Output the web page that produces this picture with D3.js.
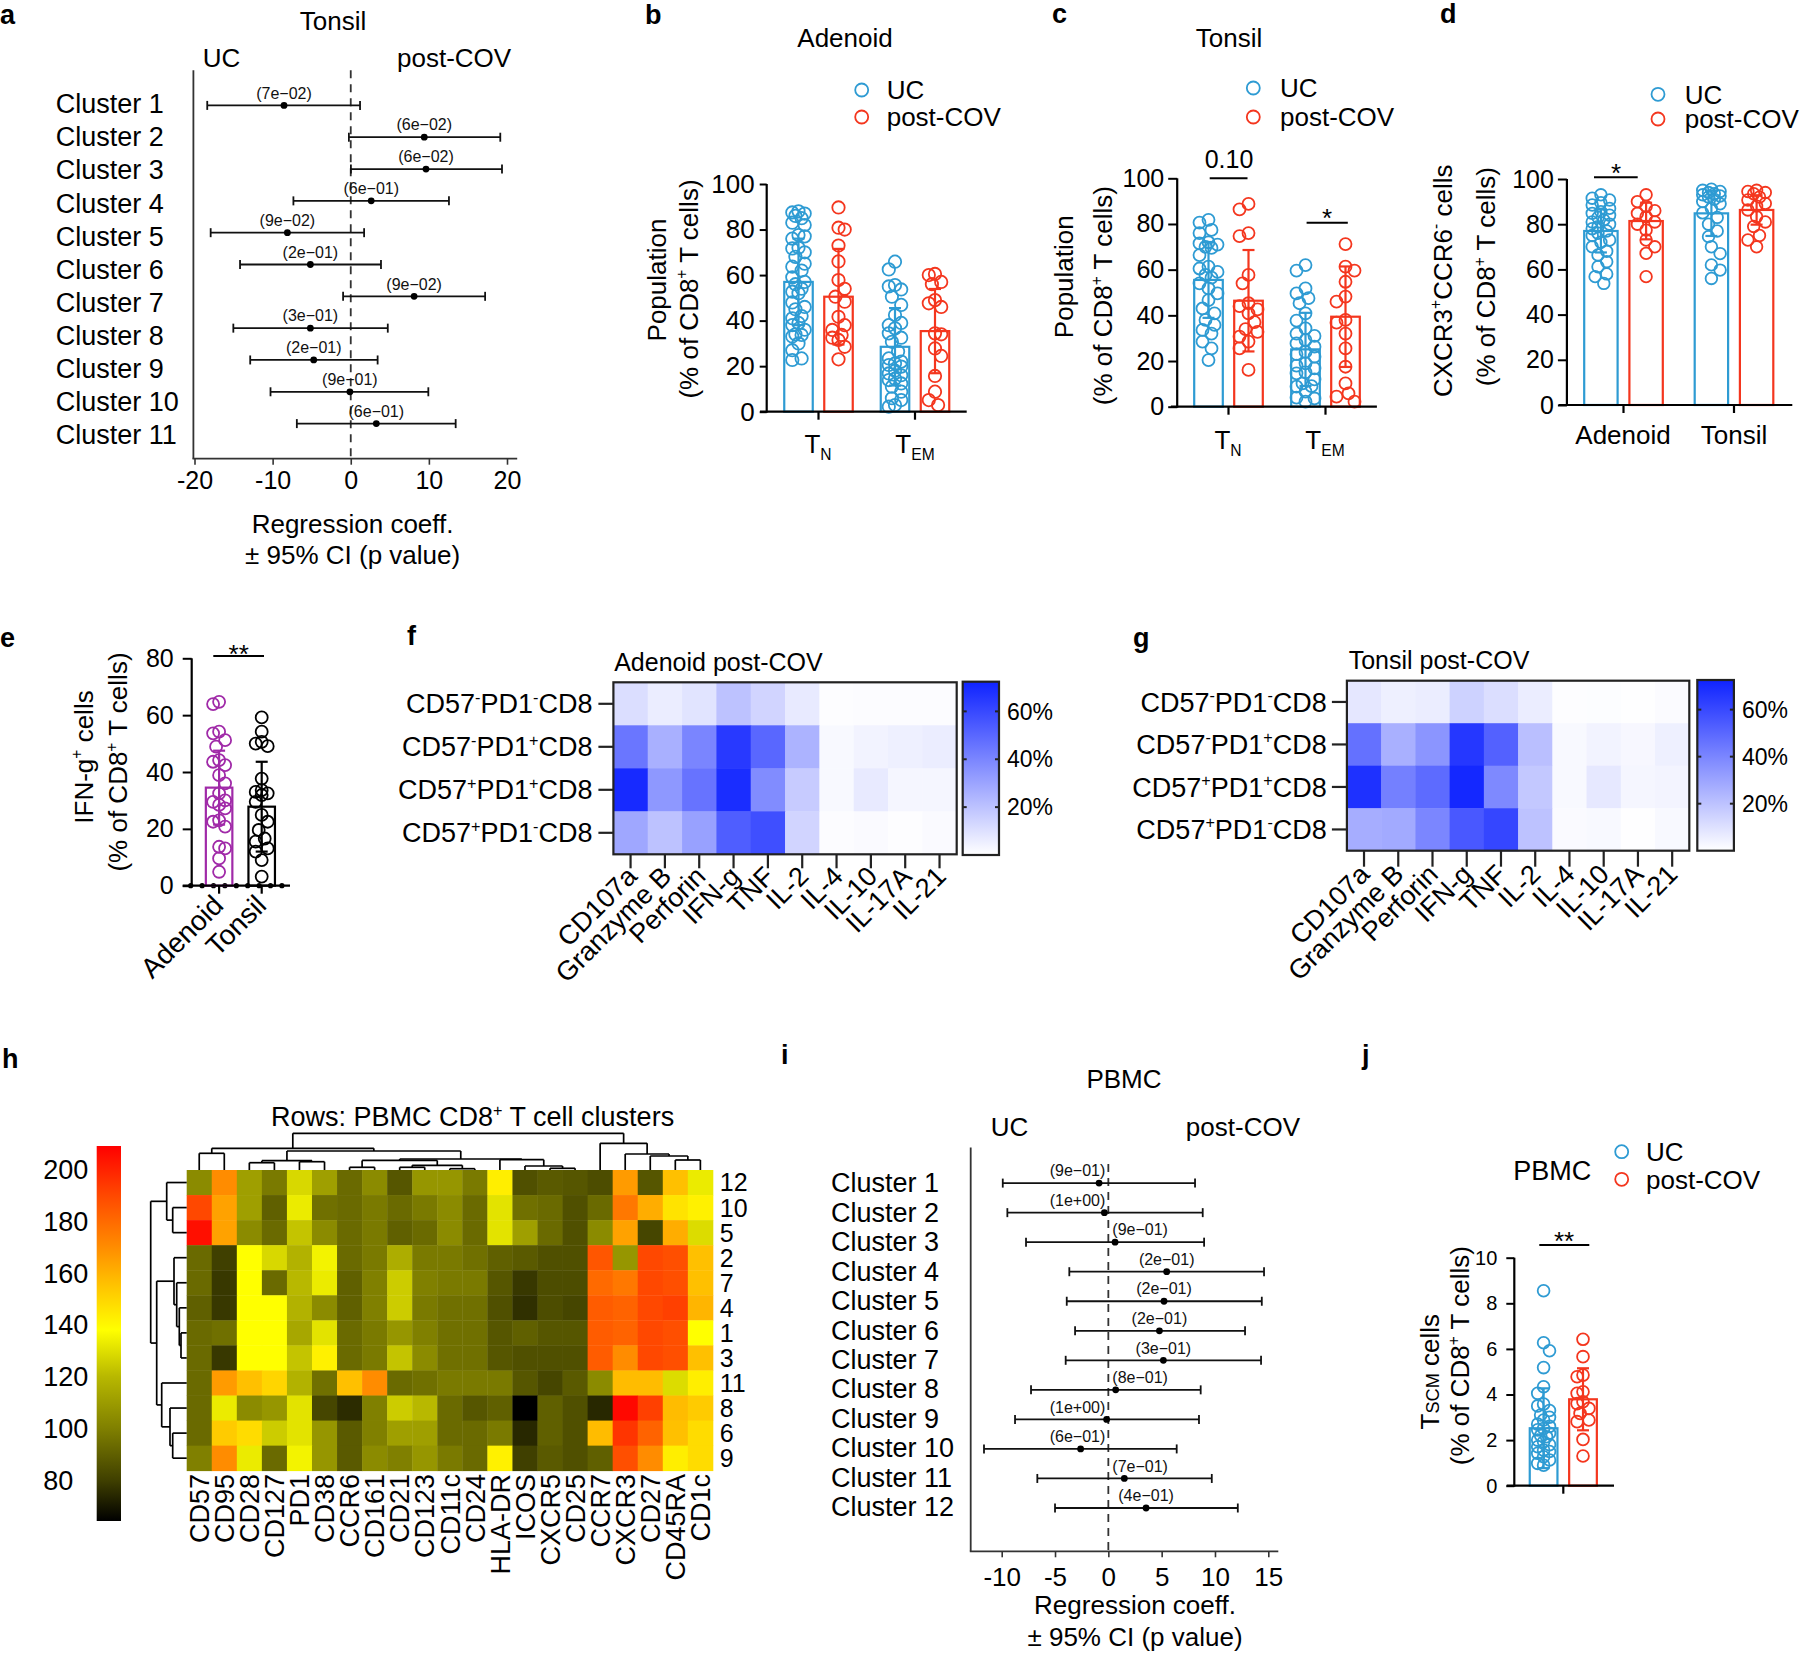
<!DOCTYPE html>
<html><head><meta charset="utf-8"><title>Figure</title>
<script src="https://cdn.jsdelivr.net/npm/d3@7/dist/d3.min.js"></script>
<style>html,body{margin:0;padding:0;background:#fff;}svg{display:block;}</style>
</head><body>
<svg id="fig" width="1800" height="1653" xmlns="http://www.w3.org/2000/svg"></svg>
<script>
const FONT = '"Liberation Sans", Arial, Helvetica, sans-serif';
const UC_COL = '#2e9bd3', PC_COL = '#f4361e', PUR_COL = '#a02aa8';

// ================= DATA =================
// Panel a (Tonsil forest plot)
const aClusters = ["Cluster 1","Cluster 2","Cluster 3","Cluster 4","Cluster 5","Cluster 6","Cluster 7","Cluster 8","Cluster 9","Cluster 10","Cluster 11"];
const aCoef = [-8.54, 9.41, 9.63, 2.62, -8.11, -5.17, 8.11, -5.17, -4.74, -0.11, 3.27];
const aLow  = [-18.37, -0.24, 0.02, -7.34, -17.93, -14.17, -0.98, -15.03, -12.87, -10.27, -6.9];
const aHigh = [1.19, 19.14, 19.36, 12.57, 1.71, 3.87, 17.2, 4.74, 3.44, 9.93, 13.43];
const aP = ["(7e\u221202)","(6e\u221202)","(6e\u221202)","(6e\u221201)","(9e\u221202)","(2e\u221201)","(9e\u221202)","(3e\u221201)","(2e\u221201)","(9e\u221201)","(6e\u221201)"];
const aTicks = [-20, -10, 0, 10, 20];

// Panel b (Adenoid)
const bGroups = ["TN", "TEM"];
const bMeans = {UC: [57, 28.5], PC: [50.5, 35.4]};
const bSD = {UC: [19, 17], PC: [21, 18.5]};
const bUC_TN = [88, 87.5, 87, 86, 85, 83, 82, 77.6, 77, 76, 72, 71.7, 70, 68, 65, 63.7, 62, 59, 57, 56, 54, 52.7, 52, 48, 46, 45, 42, 41, 39, 38, 36, 34, 33.7, 33, 30, 27, 23.4, 22.7];
const bPC_TN = [89.7, 80.8, 80, 73, 66, 57.8, 54, 50.5, 48.3, 41.7, 38, 35.9, 33.7, 32.5, 31.5, 28.5, 23];
const bUC_TEM = [65.9, 62.5, 55.6, 55, 53.7, 50.5, 46.9, 42.5, 39, 38, 36.6, 34.4, 32.5, 30.7, 26.4, 23.4, 22, 21.2, 19.8, 16.8, 16, 13.9, 12.4, 11, 8.8, 5.9, 5.1, 2.9, 2.2, 20.5, 18, 14.5];
const bPC_TEM = [60.5, 60, 57, 56, 49, 47.6, 46, 34.4, 34, 27.8, 24.5, 15.7, 8.8, 5.1, 2.9];
const pctTicks = [0, 20, 40, 60, 80, 100];

// Panel c (Tonsil)
const cMeans = {UC: [55.5, 25.1], PC: [46.4, 39.4]};
const cSD = {UC: [16.6, 16], PC: [22.2, 22]};
const cUC_TN = [81.8, 80.6, 77.4, 76, 72, 71.5, 71, 70, 69.5, 66.4, 61.3, 60.5, 59, 57.7, 56.5, 54, 51.8, 49.6, 46.7, 43, 40.9, 38, 35.8, 33.6, 32, 28.5, 25.5, 20.4];
const cPC_TN = [88.8, 86.4, 76, 74.7, 57.7, 54, 45.3, 44, 42.6, 40.9, 37, 34, 32.8, 30.7, 28.5, 25.5, 16.1];
const cUC_TEM = [62, 59.6, 51.8, 49.6, 47.5, 45.3, 40.9, 37.7, 34.3, 32, 31, 29.2, 27.7, 26.3, 24, 21.9, 19, 16.8, 14.6, 12, 10.2, 8.8, 6.6, 3.6, 2.2, 23, 18, 4, 9, 15];
const cPC_TEM = [71.2, 61.3, 59.6, 54.7, 48.2, 46, 38, 36.8, 32, 25.5, 17.5, 10.2, 5.8, 4.4, 2.2];

// Panel d (CXCR3+CCR6-)
const dGroups = ["Adenoid", "Tonsil"];
const dMeans = {UC: [77, 84.8], PC: [81.4, 86.3]};
const dSD = {UC: [9.5, 10], PC: [8.1, 6.5]};
const dUC_A = [93, 91.5, 90.7, 89.5, 88.5, 87, 85.5, 84.8, 84, 83, 81.9, 81, 80, 78.9, 78, 77, 76, 75, 73, 72, 70, 68, 66.4, 63.4, 61.2, 58, 56.8, 53.8];
const dPC_A = [93, 90, 87.8, 86, 84.8, 83.3, 81, 80, 77.4, 73, 70, 67.1, 56.8];
const dUC_T = [95.5, 95, 94.5, 94, 93.5, 93, 92.5, 92, 91, 90, 89, 87, 85, 83, 80, 77, 74.5, 70, 67, 62, 59.7, 56];
const dPC_T = [95, 94.5, 94, 93.5, 92, 90.7, 89.2, 88, 86.3, 83.3, 81, 79, 75, 73, 70];

// Panel e (IFN-g+)
const eGroups = ["Adenoid", "Tonsil"];
const eMeans = [34.5, 27.8];
const eSD = [13, 15.8];
const eAden = [64.7, 63.9, 54.2, 53.6, 51.2, 48.9, 44.2, 43.6, 42.4, 38.9, 36, 32.5, 30, 29.5, 28.4, 27.2, 23, 22.5, 20.8, 13.7, 13.1, 9.6, 4.9];
const eTons = [59.2, 54.2, 50.6, 50, 49.1, 37.7, 33.6, 33, 32.5, 31.9, 29.5, 24.9, 22.5, 19.6, 16.6, 15.5, 13.1, 12, 9, 3.2];
const eTicks = [0, 20, 40, 60, 80];

// Panels f, g (cytokine heatmaps, % of cells)
const fgCols = ["CD107a","Granzyme B","Perforin","IFN-g","TNF","IL-2","IL-4","IL-10","IL-17A","IL-21"];
const fgRows = ["CD57-PD1-","CD57-PD1+","CD57+PD1+","CD57+PD1-"];
const fValues = [
  [11, 6, 9, 20, 14, 7, 0.5, 1, 1, 1],
  [45, 26, 40, 65, 50, 25, 2, 4, 5, 6],
  [70, 34, 46, 69, 38, 17, 2, 7, 3, 3],
  [29, 20, 31, 53, 58, 14, 1, 1.5, 0.5, 1.5]
];
const gValues = [
  [8, 5, 6, 15, 11, 6, 0.5, 0.8, 0.3, 1.2],
  [47, 26, 35, 66, 52, 21, 2, 4, 2.5, 5],
  [68, 42, 49, 71, 39, 18, 2, 7.5, 3, 3.5],
  [27, 28, 40, 55, 61, 20, 1.5, 2, 0.3, 2]
];
const fgLegendTicks = [20, 40, 60];

// Panel h (PBMC cluster heatmap)
const hCols = ["CD57","CD95","CD28","CD127","PD1","CD38","CCR6","CD161","CD21","CD123","CD11c","CD24","HLA-DR","ICOS","CXCR5","CD25","CCR7","CXCR3","CD27","CD45RA","CD1c"];
const hRows = ["12","10","5","2","7","4","1","3","11","8","6","9"];
const hValues = [
  [104,170,111,98,128,111,93,104,87,108,108,98,143,85,88,87,84,166,87,156,133],
  [190,164,111,90,133,95,93,98,93,98,104,93,131,95,93,85,93,176,161,146,142],
  [205,164,104,93,123,104,93,98,90,93,104,93,131,111,93,85,104,164,82,161,129],
  [93,80,138,128,118,135,93,98,116,98,98,95,90,88,85,85,186,108,190,188,156],
  [93,78,138,93,120,133,90,100,125,100,98,98,87,78,84,84,180,176,190,188,156],
  [90,78,138,138,118,104,90,100,125,98,95,95,85,76,84,82,184,182,190,192,159],
  [93,95,138,138,114,131,93,98,108,100,95,95,87,90,87,87,184,182,190,188,138],
  [93,78,138,138,123,142,93,98,123,104,95,95,87,85,85,85,184,170,190,188,156],
  [93,166,156,150,118,95,156,170,93,95,98,98,98,87,82,88,104,157,157,129,143],
  [93,133,104,108,131,82,75,100,125,120,93,87,90,64,90,85,74,207,192,157,153],
  [93,153,148,125,131,108,88,100,111,111,93,93,98,74,90,85,157,195,182,156,148],
  [100,170,133,93,135,108,88,104,100,108,98,93,142,80,88,85,90,188,170,143,148]
];
const hLegendTicks = [80, 100, 120, 140, 160, 180, 200];
const hColorStops = [64, 80, 100, 120, 138, 156, 170, 190, 209];
const hColorRange = ["#000000","#404000","#808000","#b8b800","#ffff00","#ffc000","#ff8c00","#ff4800","#ff0000"];
// dendrograms: merge heights (dendrogram distance units)
const hColTree = {h:36.7, c:[
  {h:21.7, c:[
    {h:16.7, c:["CD57","CD95"]},
    {h:19, c:[
      {h:9.3, c:[{h:7.3, c:["CD28","CD127"]}, {h:8.3, c:["PD1","CD38"]}]},
      {h:11, c:[
        {h:9.6, c:[{h:2.7, c:["CCR6","CD161"]}, {h:4.7, c:[{h:2.7, c:["CD21","CD123"]}, {h:1.3, c:["CD11c","CD24"]}]}]},
        {h:10.3, c:["HLA-DR", {h:4, c:["ICOS", {h:1.7, c:["CXCR5","CD25"]}]}]}
      ]}
    ]}
  ]},
  {h:26.7, c:["CCR7", {h:16, c:["CXCR3", {h:14, c:["CD27", {h:10, c:["CD45RA","CD1c"]}]}]}]}
]};
const hRowTree = {h:36, c:[
  {h:20, c:["12", {h:14, c:["10","5"]}]},
  {h:30, c:[
    {h:12.7, c:["2", {h:10, c:["7", {h:7.4, c:["4", {h:5.7, c:["1","3"]}]}]}]},
    {h:25, c:["11", {h:16.7, c:["8", {h:14, c:["6","9"]}]}]}
  ]}
]};

// Panel i (PBMC forest plot)
const iClusters = ["Cluster 1","Cluster 2","Cluster 3","Cluster 4","Cluster 5","Cluster 6","Cluster 7","Cluster 8","Cluster 9","Cluster 10","Cluster 11","Cluster 12"];
const iCoef = [-0.87, -0.37, 0.63, 5.47, 5.22, 4.79, 5.16, 0.69, -0.16, -2.6, 1.5, 3.54];
const iLow  = [-9.9, -9.47, -7.72, -3.66, -3.9, -3.12, -4.0, -7.25, -8.75, -11.66, -6.66, -5.0];
const iHigh = [8.13, 8.85, 8.98, 14.6, 14.39, 12.82, 14.32, 8.66, 8.5, 6.41, 9.7, 12.14];
const iP = ["(9e\u221201)","(1e+00)","(9e\u221201)","(2e\u221201)","(2e\u221201)","(2e\u221201)","(3e\u221201)","(8e\u221201)","(1e+00)","(6e\u221201)","(7e\u221201)","(4e\u221201)"];
const iTicks = [-10, -5, 0, 5, 10, 15];

// Panel j (TSCM)
const jMeans = {UC: 2.52, PC: 3.79};
const jSD = {UC: 1.75, PC: 1.36};
const jUC = [8.55, 6.27, 5.92, 5.18, 4.34, 4.05, 3.58, 3.5, 3.1, 3.0, 2.88, 2.7, 2.51, 2.45, 2.3, 2.15, 2.0, 1.93, 1.71, 1.56, 1.42, 1.27, 1.13, 0.98, 0.9, 2.6, 2.2, 1.8, 1.5, 3.3];
const jPC = [6.42, 5.66, 4.85, 4.78, 4.12, 4.05, 3.68, 3.6, 3.39, 3.17, 2.88, 2.81, 2.03, 1.3];
const jTicks = [0, 2, 4, 6, 8, 10];

// ================= HELPERS =================
const svg = d3.select('#fig').attr('font-family', FONT);
svg.append('rect').attr('width', 1800).attr('height', 1653).attr('fill', '#fff');
const defs = svg.append('defs');

function rich(t, parts, fs) {
  let cur = 0;
  parts.forEach(p => {
    const k = Array.isArray(p) ? p[0] : 'n';
    const s = Array.isArray(p) ? p[1] : p;
    let target = 0, size = fs;
    if (k === 'sup') { target = -0.40 * fs; size = 0.6 * fs; }
    if (k === 'sub') { target = 0.26 * fs; size = 0.6 * fs; }
    if (k === 'sm')  { target = 0; size = 0.7 * fs; }
    t.append('tspan').attr('font-size', size).attr('dy', target - cur).text(s);
    cur = target;
  });
}
// (x,y) = visual centre of capitals (unless base:true -> baseline)
function label(x, y, content, o = {}) {
  const fs = o.fs || 26;
  const t = svg.append('text')
    .attr('transform', `translate(${x},${y}) rotate(${o.rot || 0})`)
    .attr('x', 0).attr('y', o.base ? 0 : 0.358 * fs)
    .attr('font-size', fs).attr('text-anchor', o.anchor || 'start')
    .attr('font-weight', o.bold ? 'bold' : 'normal').attr('fill', o.fill || '#000');
  if (Array.isArray(content)) rich(t, content, fs); else t.text(content);
  return t;
}
function line(x1, y1, x2, y2, col = '#000', w = 2, dash = null) {
  const l = svg.append('line').attr('x1', x1).attr('y1', y1).attr('x2', x2).attr('y2', y2)
    .attr('stroke', col).attr('stroke-width', w);
  if (dash) l.attr('stroke-dasharray', dash);
  return l;
}
function star(xc, yc, s, fs = 26) {
  svg.append('text').attr('x', xc).attr('y', yc + 0.59 * fs).attr('text-anchor', 'middle')
    .attr('font-size', fs).text(s);
}
function swarm(vals, yScale, r, maxOff) {
  const idx = vals.map((v, i) => i).sort((a, b) => vals[b] - vals[a]);
  const placed = [], offs = new Array(vals.length);
  const step = r * 0.5;
  idx.forEach((i, n) => {
    const sgn = n % 2 ? -1 : 1;
    const cands = [0];
    for (let k = 1; k * step <= maxOff + 0.01; k++) cands.push(sgn * k * step, -sgn * k * step);
    const yy = yScale(vals[i]);
    let best = 0, bestD = -1;
    for (const o of cands) {
      let md = Infinity;
      for (const p of placed) { const d = Math.hypot(p[0] - o, p[1] - yy); if (d < md) md = d; }
      if (md >= 1.7 * r) { best = o; bestD = md; break; }
      if (md > bestD) { bestD = md; best = o; }
    }
    offs[i] = best; placed.push([best, yy]);
  });
  return offs;
}
function legend(cx, yUC, yPC, tx, fs = 26) {
  [[yUC, UC_COL, 'UC'], [yPC, PC_COL, 'post-COV']].forEach(([y, c, t]) => {
    svg.append('circle').attr('cx', cx).attr('cy', y).attr('r', 6.5).attr('fill', 'none')
      .attr('stroke', c).attr('stroke-width', 1.8);
    label(tx, y, t, {fs});
  });
}

// ---------- forest plot ----------
function forest(c) {
  const x = d3.scaleLinear().domain(c.dom).range(c.rng);
  const yb = d3.scalePoint().domain(c.clusters).range(c.barY);
  const yl = d3.scalePoint().domain(c.clusters).range(c.labY);
  line(c.axX, c.axTop, c.axX, c.axBot, '#333', 1.8);
  line(c.axX - 0.9, c.axBot, c.axRight, c.axBot, '#333', 1.8);
  const ax = svg.append('g').attr('transform', `translate(0,${c.axBot})`)
    .call(d3.axisBottom(x).tickValues(c.ticks).tickSize(6).tickPadding(c.tickPad).tickFormat(d => String(d)));
  ax.select('.domain').remove();
  ax.attr('font-family', FONT).attr('font-size', c.tickFs);
  ax.selectAll('line').attr('stroke', '#333').attr('stroke-width', 1.6);
  ax.selectAll('text').attr('fill', '#000');
  line(x(0), c.dashTop, x(0), c.axBot, '#333', 1.8, '8,6');
  c.clusters.forEach((cl, i) => {
    const y = yb(cl);
    line(x(c.low[i]), y, x(c.high[i]), y, '#111', 1.8);
    [c.low[i], c.high[i]].forEach(v => line(x(v), y - 4.5, x(v), y + 4.5, '#111', 1.8));
    svg.append('circle').attr('cx', x(c.coef[i])).attr('cy', y).attr('r', 3.4).attr('fill', '#000');
    const t = svg.append('text').attr('x', x(c.coef[i])).attr('y', y - 6.8).attr('text-anchor', 'middle')
      .attr('font-size', 16).attr('fill', '#111').text(c.p[i]);
    if (c.repel) {
      const w = t.node().getComputedTextLength(), z = x(0), px = x(c.coef[i]);
      if (Math.abs(px - z) < w / 2 + 3) t.attr('x', c.coef[i] >= 0 ? z + w / 2 + 4 : z - w / 2 - 3);
    }
    label(c.labX, yl(cl), cl, {fs: c.labFs});
  });
}

// ---------- bar + dot plot ----------
function bars(c) {
  const y = d3.scaleLinear().domain([0, c.max]).range([c.y0, c.yTop]);
  const xg = d3.scalePoint().domain(c.groups).range(c.gRange);
  const xs = d3.scalePoint().domain(c.series).range([-c.off, c.off]);
  c.data.forEach(d => {
    const cx = xg(d.group) + (c.series.length > 1 ? xs(d.series) : 0);
    svg.append('rect').attr('x', cx - c.bw / 2).attr('y', y(d.mean)).attr('width', c.bw)
      .attr('height', y(0) - y(d.mean)).attr('fill', 'none').attr('stroke', d.color).attr('stroke-width', 2.2);
    const offs = swarm(d.pts, y, c.r, c.maxOff);
    d.pts.forEach((v, i) => svg.append('circle').attr('cx', cx + offs[i]).attr('cy', y(v)).attr('r', c.r)
      .attr('fill', 'none').attr('stroke', d.color).attr('stroke-width', 1.8));
    const lo = Math.max(0, d.mean - d.sd), hi = d.mean + d.sd;
    line(cx, y(lo), cx, y(hi), d.color, 2.2);
    line(cx - 6, y(hi), cx + 6, y(hi), d.color, 2.2);
    line(cx - 6, y(lo), cx + 6, y(lo), d.color, 2.2);
  });
  const ax = svg.append('g').attr('transform', `translate(${c.axX},0)`)
    .call(d3.axisLeft(y).tickValues(c.ticks).tickSize(c.tickLen).tickPadding(c.tickPad));
  ax.select('.domain').remove();
  ax.attr('font-family', FONT).attr('font-size', c.tickFs);
  ax.selectAll('line').attr('stroke', '#000').attr('stroke-width', 2);
  ax.selectAll('text').attr('fill', '#000');
  line(c.axX, y(0) + 1, c.axX, y(c.max), '#000', 2.2);
  line(c.xStart, y(0), c.xEnd, y(0), '#000', 2.2);
  c.groups.forEach(gr => line(xg(gr), y(0), xg(gr), y(0) + 8, '#000', 2.2));
  return {y, xg};
}

// ---------- blue heatmap ----------
function blueHeat(c) {
  const x = d3.scaleBand().domain(fgCols).range([c.x0, c.x1]);
  const y = d3.scaleBand().domain(fgRows).range([c.y0, c.y1]);
  const col = d3.scaleLinear().domain([0, c.cbMax]).range(['#ffffff', '#0f23ff']);
  c.values.forEach((row, ri) => row.forEach((v, ci) => {
    svg.append('rect').attr('x', x(fgCols[ci])).attr('y', y(fgRows[ri])).attr('width', x.bandwidth() + 0.5)
      .attr('height', y.bandwidth() + 0.5).attr('fill', col(v));
  }));
  svg.append('rect').attr('x', c.x0).attr('y', c.y0).attr('width', c.x1 - c.x0).attr('height', c.y1 - c.y0)
    .attr('fill', 'none').attr('stroke', '#222').attr('stroke-width', 2.2);
  const rowParts = {
    "CD57-PD1-": ["CD57", ["sup", "-"], "PD1", ["sup", "-"], "CD8"],
    "CD57-PD1+": ["CD57", ["sup", "-"], "PD1", ["sup", "+"], "CD8"],
    "CD57+PD1+": ["CD57", ["sup", "+"], "PD1", ["sup", "+"], "CD8"],
    "CD57+PD1-": ["CD57", ["sup", "+"], "PD1", ["sup", "-"], "CD8"]
  };
  fgRows.forEach(r => {
    const yc = y(r) + y.bandwidth() / 2;
    line(c.x0 - 15, yc, c.x0, yc, '#222', 2.2);
    label(c.labR, yc, rowParts[r], {fs: 27, anchor: 'end'});
  });
  fgCols.forEach(cn => {
    const xc = x(cn) + x.bandwidth() / 2;
    line(xc, c.y1, xc, c.tickB, '#222', 2.2);
    svg.append('text').attr('transform', `translate(${xc + c.colDx},${c.colY}) rotate(-45)`)
      .attr('text-anchor', 'end').attr('font-size', 27).text(cn);
  });
  label(c.titleX, c.titleY, c.title, {fs: 25});
  // colour bar
  const gid = 'grad' + c.id;
  const gr = defs.append('linearGradient').attr('id', gid).attr('x1', 0).attr('y1', 1).attr('x2', 0).attr('y2', 0);
  gr.append('stop').attr('offset', 0).attr('stop-color', col(0));
  gr.append('stop').attr('offset', 1).attr('stop-color', col(c.cbMax));
  svg.append('rect').attr('x', c.cb[0]).attr('y', c.cb[2]).attr('width', c.cb[1] - c.cb[0])
    .attr('height', c.cb[3] - c.cb[2]).attr('fill', `url(#${gid})`).attr('stroke', '#222').attr('stroke-width', 2.2);
  const cy = d3.scaleLinear().domain([0, c.cbMax]).range([c.cb[3], c.cb[2]]);
  fgLegendTicks.forEach(v => {
    line(c.cb[0], cy(v), c.cb[0] + 4, cy(v), '#222', 2);
    line(c.cb[1] - 4, cy(v), c.cb[1], cy(v), '#222', 2);
    label(c.cb[1] + 8, cy(v), v + '%', {fs: 23});
  });
}

// ================= DRAW =================
// panel letters
[['a', 0, 24], ['b', 645, 24], ['c', 1052, 23], ['d', 1440, 23], ['e', 0, 647], ['f', 407, 645],
 ['g', 1133, 647], ['h', 2, 1068], ['i', 781, 1064], ['j', 1362, 1064]].forEach(([s, x, y]) =>
  label(x, y, s, {fs: 27, bold: true, base: true}));

// ---- a ----
forest({clusters: aClusters, coef: aCoef, low: aLow, high: aHigh, p: aP, ticks: aTicks,
  dom: [-20, 20], rng: [194.5, 507], barY: [105.4, 423.6], labY: [103.6, 434.7],
  axX: 193.4, axTop: 70.3, axBot: 458.7, axRight: 517.2, dashTop: 70.3, tickPad: 7, tickFs: 25,
  labX: 55.8, labFs: 27, repel: false});
label(333, 20.3, 'Tonsil', {fs: 26, anchor: 'middle'});
label(202.8, 57.3, 'UC', {fs: 26});
label(397, 57.3, 'post-COV', {fs: 26});
label(352.6, 523.5, 'Regression coeff.', {fs: 26, anchor: 'middle'});
label(352.6, 555, '\u00b1 95% CI (p value)', {fs: 26, anchor: 'middle'});

// ---- b ----
bars({max: 100, y0: 411.7, yTop: 184, groups: bGroups, gRange: [818.5, 915], series: ['UC', 'PC'], off: 20,
  bw: 28.5, r: 6.2, maxOff: 9, axX: 766.7, ticks: pctTicks, tickLen: 7, tickPad: 5, tickFs: 26,
  xStart: 760, xEnd: 966.7,
  data: [
    {group: 'TN', series: 'UC', mean: bMeans.UC[0], sd: bSD.UC[0], pts: bUC_TN, color: UC_COL},
    {group: 'TN', series: 'PC', mean: bMeans.PC[0], sd: bSD.PC[0], pts: bPC_TN, color: PC_COL},
    {group: 'TEM', series: 'UC', mean: bMeans.UC[1], sd: bSD.UC[1], pts: bUC_TEM, color: UC_COL},
    {group: 'TEM', series: 'PC', mean: bMeans.PC[1], sd: bSD.PC[1], pts: bPC_TEM, color: PC_COL}]});
label(845, 38, 'Adenoid', {fs: 26, anchor: 'middle'});
legend(861.7, 90, 117, 886.7, 26);
label(656.7, 280, 'Population', {fs: 26, anchor: 'middle', rot: -90});
label(688.3, 289, ['(% of CD8', ['sup', '+'], ' T cells)'], {fs: 26, anchor: 'middle', rot: -90});
label(818, 444, ['T', ['sub', 'N']], {fs: 26, anchor: 'middle'});
label(915, 444, ['T', ['sub', 'EM']], {fs: 26, anchor: 'middle'});

// ---- c ----
bars({max: 100, y0: 406.7, yTop: 178.3, groups: bGroups, gRange: [1228.5, 1325.5], series: ['UC', 'PC'], off: 20,
  bw: 28.6, r: 6, maxOff: 9, axX: 1177.2, ticks: pctTicks, tickLen: 9, tickPad: 4, tickFs: 25,
  xStart: 1170.9, xEnd: 1376.9,
  data: [
    {group: 'TN', series: 'UC', mean: cMeans.UC[0], sd: cSD.UC[0], pts: cUC_TN, color: UC_COL},
    {group: 'TN', series: 'PC', mean: cMeans.PC[0], sd: cSD.PC[0], pts: cPC_TN, color: PC_COL},
    {group: 'TEM', series: 'UC', mean: cMeans.UC[1], sd: cSD.UC[1], pts: cUC_TEM, color: UC_COL},
    {group: 'TEM', series: 'PC', mean: cMeans.PC[1], sd: cSD.PC[1], pts: cPC_TEM, color: PC_COL}]});
label(1229, 38, 'Tonsil', {fs: 26, anchor: 'middle'});
legend(1253.3, 88, 117, 1280, 26);
label(1064, 276.7, 'Population', {fs: 26, anchor: 'middle', rot: -90});
label(1103, 295.7, ['(% of CD8', ['sup', '+'], ' T cells)'], {fs: 26, anchor: 'middle', rot: -90});
label(1228, 440, ['T', ['sub', 'N']], {fs: 26, anchor: 'middle'});
label(1325, 440, ['T', ['sub', 'EM']], {fs: 26, anchor: 'middle'});
line(1209.7, 178.3, 1247.5, 178.3, '#000', 2);
label(1229, 159, '0.10', {fs: 25, anchor: 'middle'});
line(1306.6, 222.7, 1347.8, 222.7, '#000', 2);
star(1327, 211.7, '*');

// ---- d ----
bars({max: 100, y0: 405, yTop: 179, groups: dGroups, gRange: [1623.5, 1734], series: ['UC', 'PC'], off: 22.6,
  bw: 33.4, r: 5.8, maxOff: 11, axX: 1566.9, ticks: pctTicks, tickLen: 9, tickPad: 4, tickFs: 25,
  xStart: 1558.7, xEnd: 1792.3,
  data: [
    {group: 'Adenoid', series: 'UC', mean: dMeans.UC[0], sd: dSD.UC[0], pts: dUC_A, color: UC_COL},
    {group: 'Adenoid', series: 'PC', mean: dMeans.PC[0], sd: dSD.PC[0], pts: dPC_A, color: PC_COL},
    {group: 'Tonsil', series: 'UC', mean: dMeans.UC[1], sd: dSD.UC[1], pts: dUC_T, color: UC_COL},
    {group: 'Tonsil', series: 'PC', mean: dMeans.PC[1], sd: dSD.PC[1], pts: dPC_T, color: PC_COL}]});
legend(1658, 94.3, 119, 1684.7, 26);
label(1442.3, 280.8, ['CXCR3', ['sup', '+'], 'CCR6', ['sup', '-'], ' cells'], {fs: 26, anchor: 'middle', rot: -90});
label(1486, 276.7, ['(% of CD8', ['sup', '+'], ' T cells)'], {fs: 26, anchor: 'middle', rot: -90});
label(1623, 435, 'Adenoid', {fs: 26, anchor: 'middle'});
label(1734, 435, 'Tonsil', {fs: 26, anchor: 'middle'});
line(1594, 177.3, 1637.7, 177.3, '#000', 2);
star(1616, 166.7, '*');

// ---- e ----
d3.range(0, 9).forEach(k => svg.append('circle').attr('cx', 190.7 + 11.4 * k).attr('cy', 885.7).attr('r', 2.6).attr('fill', '#000'));
bars({max: 80, y0: 885.7, yTop: 658.3, groups: eGroups, gRange: [219.1, 261.7], series: ['all'], off: 0,
  bw: 26.5, r: 6, maxOff: 8, axX: 191.7, ticks: eTicks, tickLen: 9, tickPad: 9, tickFs: 25,
  xStart: 182.7, xEnd: 290,
  data: [
    {group: 'Adenoid', series: 'all', mean: eMeans[0], sd: eSD[0], pts: eAden, color: PUR_COL},
    {group: 'Tonsil', series: 'all', mean: eMeans[1], sd: eSD[1], pts: eTons, color: '#000'}]});
label(83.3, 757, ['IFN-g', ['sup', '+'], ' cells'], {fs: 26, anchor: 'middle', rot: -90});
label(118, 762, ['(% of CD8', ['sup', '+'], ' T cells)'], {fs: 26, anchor: 'middle', rot: -90});
svg.append('text').attr('transform', 'translate(225,907) rotate(-45)').attr('text-anchor', 'end').attr('font-size', 28).text('Adenoid');
svg.append('text').attr('transform', 'translate(268,907) rotate(-45)').attr('text-anchor', 'end').attr('font-size', 28).text('Tonsil');
line(213.3, 656, 264, 656, '#000', 2);
star(238.7, 648, '**');

// ---- f, g ----
blueHeat({id: 'f', values: fValues, x0: 613.4, x1: 956.7, y0: 682.3, y1: 854.3, labR: 592.4, tickB: 868.3,
  colDx: 8, colY: 878, title: 'Adenoid post-COV', titleX: 614.2, titleY: 661.7,
  cb: [962.7, 999, 681.7, 855], cbMax: 72.4});
blueHeat({id: 'g', values: gValues, x0: 1346.9, x1: 1689.3, y0: 680.7, y1: 850.7, labR: 1326.8, tickB: 866.7,
  colDx: 7, colY: 876, title: 'Tonsil post-COV', titleX: 1348.7, titleY: 660,
  cb: [1697.3, 1733.9, 680, 850.7], cbMax: 72.6});

// ---- h ----
(function () {
  const x = d3.scaleBand().domain(hCols).range([186.7, 712.9]);
  const y = d3.scaleBand().domain(hRows).range([1170, 1470.7]);
  const col = d3.scaleLinear().domain(hColorStops).range(hColorRange).clamp(true);
  hValues.forEach((row, ri) => row.forEach((v, ci) => {
    svg.append('rect').attr('x', x(hCols[ci])).attr('y', y(hRows[ri])).attr('width', x.bandwidth() + 0.4)
      .attr('height', y.bandwidth() + 0.4).attr('fill', col(v));
  }));
  hRows.forEach(r => label(719.8, y(r) + y.bandwidth() / 2, r, {fs: 25}));
  hCols.forEach(cn => svg.append('text')
    .attr('transform', `translate(${x(cn) + x.bandwidth() / 2},1474) rotate(-90)`)
    .attr('y', 0.36 * 27).attr('text-anchor', 'end').attr('font-size', 27).text(cn));
  label(472.6, 1116.7, ['Rows: PBMC CD8', ['sup', '+'], ' T cell clusters'], {fs: 27, anchor: 'middle'});
  function dendro(spec, leafPos, hScale, horizontal) {
    const root = d3.hierarchy(spec, d => (typeof d === 'string' ? null : d.c));
    root.eachAfter(n => {
      n.pos = n.children ? d3.mean(n.children, ch => ch.pos) : leafPos(n.data);
      n.hh = n.children ? n.data.h : 0;
    });
    root.each(n => {
      if (!n.children) return;
      const a = n.children[0], b = n.children[n.children.length - 1];
      const hv = hScale(n.hh);
      if (horizontal) {
        line(a.pos, hv, b.pos, hv, '#000', 1.7);
        n.children.forEach(ch => line(ch.pos, hv, ch.pos, hScale(ch.hh), '#000', 1.7));
      } else {
        line(hv, a.pos, hv, b.pos, '#000', 1.7);
        n.children.forEach(ch => line(hv, ch.pos, hScale(ch.hh), ch.pos, '#000', 1.7));
      }
    });
  }
  dendro(hColTree, nm => x(nm) + x.bandwidth() / 2, d3.scaleLinear().domain([0, 36.7]).range([1170, 1133.3]), true);
  dendro(hRowTree, nm => y(nm) + y.bandwidth() / 2, d3.scaleLinear().domain([0, 36]).range([186.7, 150.7]), false);
  const gr = defs.append('linearGradient').attr('id', 'gradh').attr('x1', 0).attr('y1', 1).attr('x2', 0).attr('y2', 0);
  const cy = d3.scaleLinear().domain([64.2, 209]).range([1521, 1146]);
  hColorStops.forEach(v => gr.append('stop').attr('offset', (v - 64.2) / (209 - 64.2)).attr('stop-color', col(v)));
  svg.append('rect').attr('x', 96.7).attr('y', 1146).attr('width', 24.3).attr('height', 375).attr('fill', 'url(#gradh)');
  hLegendTicks.forEach(v => label(43.3, cy(v), String(v), {fs: 27}));
})();

// ---- i ----
forest({clusters: iClusters, coef: iCoef, low: iLow, high: iHigh, p: iP, ticks: iTicks,
  dom: [-10, 15], rng: [1001.7, 1268.3], barY: [1183.1, 1508], labY: [1182.7, 1506.4],
  axX: 970.7, axTop: 1147.5, axBot: 1551.3, axRight: 1278.3, dashTop: 1164, tickPad: 10, tickFs: 26,
  labX: 831, labFs: 27, repel: true});
label(1124, 1079.1, 'PBMC', {fs: 26, anchor: 'middle'});
label(990.7, 1126.8, 'UC', {fs: 26});
label(1300, 1126.8, 'post-COV', {fs: 26, anchor: 'end'});
label(1135, 1605, 'Regression coeff.', {fs: 26, anchor: 'middle'});
label(1135, 1636.2, '\u00b1 95% CI (p value)', {fs: 26, anchor: 'middle'});

// ---- j ----
bars({max: 10, y0: 1485.7, yTop: 1257.7, groups: ['PBMC'], gRange: [1563.3, 1563.3], series: ['UC', 'PC'], off: 19.7,
  bw: 27.7, r: 5.9, maxOff: 8.5, axX: 1514.3, ticks: jTicks, tickLen: 8, tickPad: 9, tickFs: 20,
  xStart: 1506.7, xEnd: 1614,
  data: [
    {group: 'PBMC', series: 'UC', mean: jMeans.UC, sd: jSD.UC, pts: jUC, color: UC_COL},
    {group: 'PBMC', series: 'PC', mean: jMeans.PC, sd: jSD.PC, pts: jPC, color: PC_COL}]});
label(1552.3, 1170.7, 'PBMC', {fs: 27, anchor: 'middle'});
legend(1621.7, 1151.7, 1179.3, 1646, 26);
label(1430, 1371.7, ['T', ['sm', 'SCM'], ' cells'], {fs: 26, anchor: 'middle', rot: -90});
label(1460, 1355.7, ['(% of CD8', ['sup', '+'], ' T cells)'], {fs: 26, anchor: 'middle', rot: -90});
line(1539.3, 1245, 1589.3, 1245, '#000', 2);
star(1564, 1235, '**');
</script>
</body></html>
